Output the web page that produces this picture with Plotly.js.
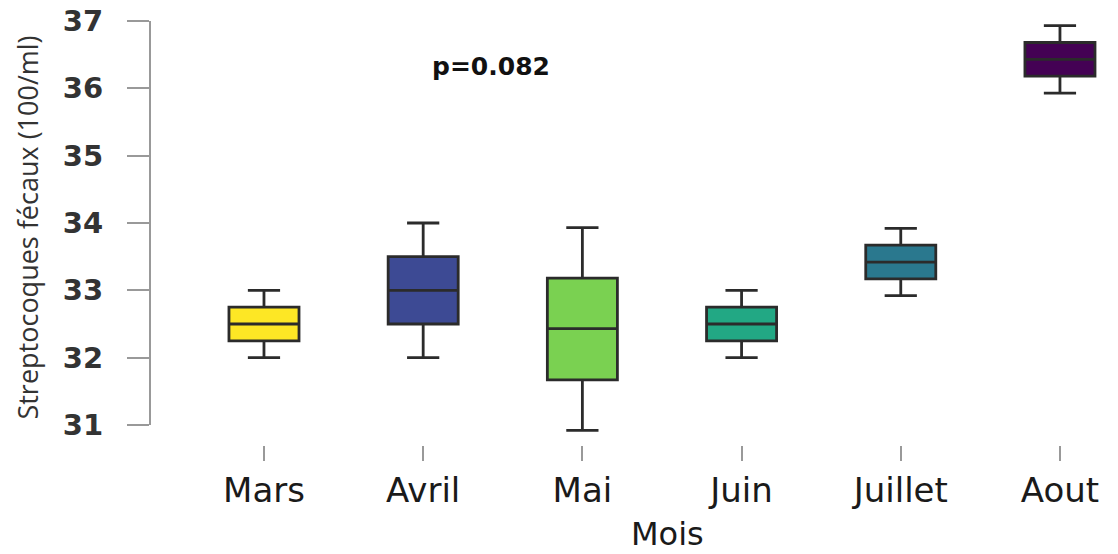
<!DOCTYPE html>
<html>
<head>
<meta charset="utf-8">
<script src="https://cdn.plot.ly/plotly-3.0.1.min.js"></script>
<style>
html,body{margin:0;padding:0;background:#fff;}
#chart{width:1118px;height:554px;}
</style>
</head>
<body>
<div id="chart"></div>
<script>
// Data
const months = ['Mars', 'Avril', 'Mai', 'Juin', 'Juillet', 'Aout'];
const lowerWhisker = [32.00, 32.00, 30.92, 32.00, 32.92, 35.93];
const q1Values     = [32.25, 32.50, 31.67, 32.25, 33.17, 36.18];
const medianValues = [32.50, 33.00, 32.43, 32.50, 33.42, 36.43];
const q3Values     = [32.75, 33.50, 33.18, 32.75, 33.67, 36.68];
const upperWhisker = [33.00, 34.00, 33.93, 33.00, 33.92, 36.93];
const boxColors = ['#FDE725', '#3D4A94', '#7AD151', '#22A884', '#2A788E', '#440154'];
const yTickValues = [31, 32, 33, 34, 35, 36, 37];
const pValueText = 'p=0.082';
const xTitle = 'Mois';
const yTitle = 'Streptocoques fécaux (100/ml)';

const traces = months.map((m, i) => ({
  type: 'box',
  name: m,
  x: [m],
  q1: [q1Values[i]],
  median: [medianValues[i]],
  q3: [q3Values[i]],
  lowerfence: [lowerWhisker[i]],
  upperfence: [upperWhisker[i]],
  boxpoints: false,
  fillcolor: boxColors[i],
  line: {color: '#2b2b2b', width: 2.8},
  width: 0.44,
  whiskerwidth: 0.46,
  showlegend: false,
  hoverinfo: 'y'
}));

const layout = {
  width: 1118,
  height: 554,
  margin: {l: 150, r: 2, t: 10, b: 109},
  paper_bgcolor: '#ffffff',
  plot_bgcolor: '#ffffff',
  boxmode: 'overlay',
  font: {family: 'DejaVu Sans, sans-serif', color: '#222'},
  xaxis: {
    type: 'category',
    categoryorder: 'array',
    categoryarray: months,
    range: [-0.716, 5.352],
    showgrid: false,
    zeroline: false,
    showline: false,
    ticks: 'outside',
    ticklen: 15,
    tickwidth: 2,
    tickcolor: '#999',
    tickfont: {family: 'DejaVu Sans, sans-serif', size: 34, color: '#1a1a1a'},
    ticklabelstandoff: 0,
    automargin: false,
    fixedrange: true
  },
  yaxis: {
    range: [30.703, 37.163],
    tickvals: yTickValues,
    ticktext: yTickValues.map(String),
    showgrid: false,
    zeroline: false,
    showline: false,
    ticks: 'outside',
    ticklen: 22,
    tickwidth: 2,
    tickcolor: '#999',
    tickfont: {family: 'DejaVu Sans, sans-serif', size: 29, color: '#333', weight: 'bold'},
    ticklabelstandoff: 18,
    title: {text: yTitle, font: {family: 'Open Sans, sans-serif', size: 27, color: '#333'}, standoff: 16},
    automargin: false,
    fixedrange: true
  },
  shapes: [{
    type: 'line', xref: 'paper', yref: 'y',
    x0: 0, x1: 0, y0: yTickValues[0], y1: yTickValues[yTickValues.length - 1],
    line: {color: '#999', width: 2}
  }],
  annotations: [{
    text: '<b>' + pValueText + '</b>',
    xref: 'paper', yref: 'paper',
    x: 0.353, y: 0.871,
    xanchor: 'center', yanchor: 'middle',
    showarrow: false,
    font: {family: 'DejaVu Sans, sans-serif', size: 25, color: '#111'}
  }, {
    text: xTitle,
    xref: 'paper', yref: 'paper',
    x: 0.536, y: -0.205,
    xanchor: 'center', yanchor: 'middle',
    showarrow: false,
    borderpad: 0,
    font: {family: 'DejaVu Sans, sans-serif', size: 32, color: '#1a1a1a'}
  }]
};

Plotly.newPlot('chart', traces, layout, {displayModeBar: false, staticPlot: true});
</script>
</body>
</html>
